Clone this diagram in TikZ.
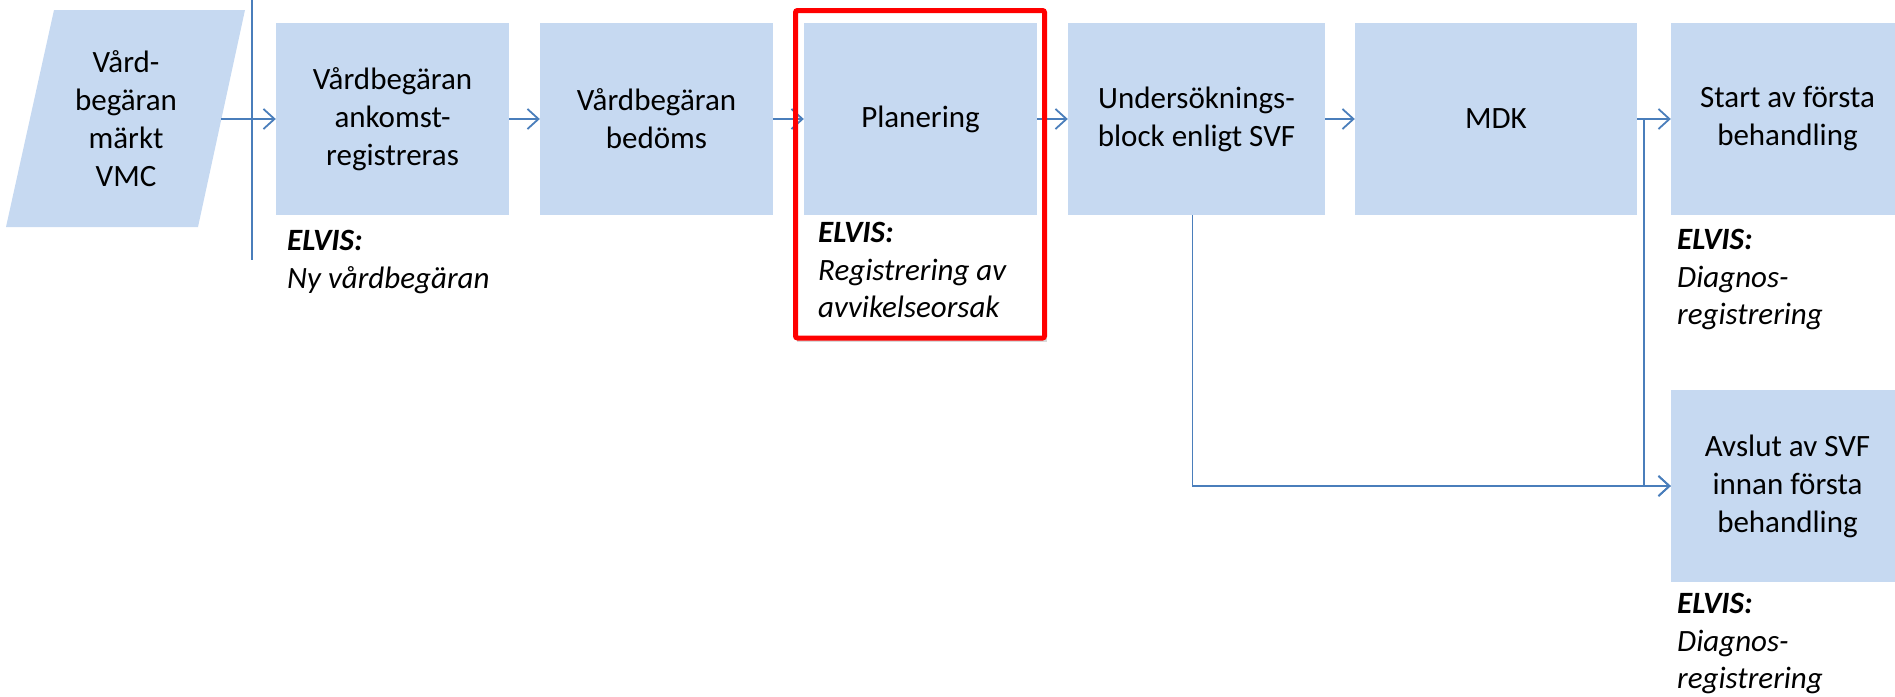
\documentclass[tikz,border=0pt]{standalone}
\usepackage{fontspec}
\setmainfont{Carlito}
\usetikzlibrary{arrows.meta}
\definecolor{svfbox}{RGB}{198,217,241}
\definecolor{svfline}{RGB}{74,126,187}
\definecolor{svfred}{RGB}{255,0,0}

\begin{document}
\begin{tikzpicture}[x=1pt, y=-1pt,
  every node/.style={font=\fontsize{31}{38}\selectfont},
  flowbox/.style={fill=svfbox, minimum width=233pt, minimum height=192pt, inner sep=0pt, align=center},
  elvis/.style={anchor=north west, align=left, inner sep=0pt, font=\fontsize{31}{37.5}\selectfont\itshape},
  flow/.style={draw=svfline, line width=1.8pt, -{Straight Barb[length=11pt, width=20pt]}}]
\useasboundingbox (0,0) rectangle (1895,696);

% Red frame, back part
\fill[black, opacity=0.15] (797,15) rectangle (1047,342);
\fill[white] (795.5,10.5) rectangle (1044.5,338);

% Input
\fill[svfbox] (54,10) -- (245,10) -- (198,227) -- (6,227) -- cycle;
\node[align=center] (vmc) at (126,119) {Vård-\\begäran\\märkt\\VMC};
\coordinate (vmcout) at (221,119);

% Divider
\draw[svfline, line width=1.8pt] (252,0) -- (252,260);

% Boxes
\node[flowbox] (ankomst) at (392.5,119) {Vårdbegäran\\ankomst-\\registreras};
\node[flowbox] (bedoms) at (656.5,119) {Vårdbegäran\\bedöms};
\node[flowbox] (plan) at (920.5,119) {Planering};
\node[flowbox, minimum width=257pt] (unders) at (1196.5,119) {Undersöknings-\\block enligt SVF};
\node[flowbox, minimum width=282pt] (mdk) at (1496,119) {MDK};
\node[flowbox] (start) at (1787.5,119) {Start av första\\behandling};
\node[flowbox] (avslut) at (1787.5,486) {Avslut av SVF\\innan första\\behandling};

% ELVIS
\node[elvis] (ankomstinfo) at (287,230) {\textbf{ELVIS:}\\Ny vårdbegäran};
\node[elvis] (planinfo) at (818,222) {\textbf{ELVIS:}\\Registrering av\\avvikelseorsak};
\node[elvis] (startinfo) at (1677,229) {\textbf{ELVIS:}\\Diagnos-\\registrering};
\node[elvis] (avslutinfo) at (1677,593) {\textbf{ELVIS:}\\Diagnos-\\registrering};

% Arrows
\draw[flow] (vmcout) -- (ankomst);
\draw[flow] (ankomst) -- (bedoms);
\draw[flow] (bedoms) -- (plan);
\draw[flow] (plan) -- (unders);
\draw[flow] (unders) -- (mdk);
\draw[flow] (mdk) -- (start);
\draw[flow] (mdk.east) -- ++(7,0) |- (avslut.west);
\draw[flow] ([xshift=-4pt]unders.south) |- (avslut.west);

% Red frame
\draw[svfred, line width=5pt, rounded corners=2pt] (795.5,10.5) rectangle (1044.5,338);
\end{tikzpicture}
\end{document}
